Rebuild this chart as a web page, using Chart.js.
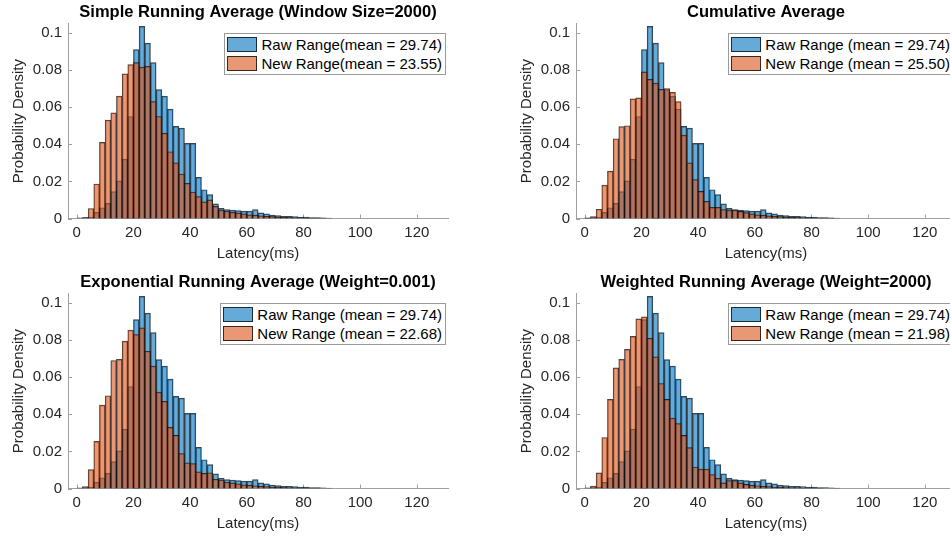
<!DOCTYPE html>
<html lang="en">
<head>
<meta charset="UTF-8">
<title>Latency Histograms</title>
<script src="https://cdn.jsdelivr.net/npm/chart.js"></script>
<style>
    body { margin: 0; width: 950px; height: 537px; overflow: hidden; background: #fff;
           font-family: "Liberation Sans", Arial, sans-serif; }
    .panel { position: absolute; width: 480px; height: 268px; }
    .legend { position: absolute; top: 33px; background: #fff; border: 1px solid #9a9a9a;
              padding: 1px 3px 1px 2px; font-size: 15px; color: #000; white-space: nowrap; }
    .legend .row { display: flex; align-items: center; height: 19px; }
    .legend .sw { width: 28px; height: 13px; margin-right: 4px; border: 1px solid rgba(0,0,0,0.75); }
</style>
</head>
<body>
<div class="panel" style="left:0;top:0"><canvas id="c1" width="480" height="268"></canvas></div>
<div class="panel" style="left:508px;top:0"><canvas id="c2" width="480" height="268"></canvas></div>
<div class="panel" style="left:0;top:270px"><canvas id="c3" width="480" height="268"></canvas></div>
<div class="panel" style="left:508px;top:270px"><canvas id="c4" width="480" height="268"></canvas></div>

<script>
// bin centres (2 ms bins), ticks
const bins = [1, 3, 5, 7, 9, 11, 13, 15, 17, 19, 21, 23, 25, 27, 29, 31, 33, 35, 37, 39,
              41, 43, 45, 47, 49, 51, 53, 55, 57, 59, 61, 63, 65, 67, 69, 71, 73, 75, 77, 79,
              81, 83, 85, 87, 89];
const xTicks = [0, 20, 40, 60, 80, 100, 120];
const yTicks = [0, 0.02, 0.04, 0.06, 0.08, 0.1];

// raw latency histogram (same in every panel)
const rawRange = [0.0003, 0.0005, 0.0008, 0.0033, 0.0058, 0.0082, 0.0145, 0.0203, 0.032, 0.055,
                  0.091, 0.1036, 0.0945, 0.084, 0.0695, 0.066, 0.059, 0.0497, 0.0487, 0.0405,
                  0.0405, 0.0222, 0.0155, 0.0129, 0.0079, 0.0055, 0.0048, 0.0045, 0.0043, 0.004,
                  0.004, 0.0048, 0.003, 0.0025, 0.0018, 0.0016, 0.0012, 0.0012, 0.0011, 0.0007,
                  0.0007, 0.0005, 0.0005, 0.0004, 0.0002];

// filtered histograms
const simpleNew = [0, 0.0005, 0.0054, 0.0186, 0.041, 0.053, 0.057, 0.066, 0.078, 0.083,
                   0.084, 0.0816, 0.082, 0.063, 0.055, 0.046, 0.036, 0.030, 0.024, 0.019,
                   0.0143, 0.0118, 0.009, 0.010, 0.0066, 0.0045, 0.004, 0.0034, 0.003, 0.0025,
                   0.002, 0.0018, 0.0015, 0.0012, 0.001, 0.0008, 0.0006, 0.0005, 0.0004, 0.0003,
                   0.0002, 0.0002, 0.0001, 0.0001, 0];
const cumulativeNew = [0.0002, 0.001, 0.005, 0.018, 0.0255, 0.043, 0.0495, 0.050, 0.0645, 0.065,
                       0.079, 0.075, 0.073, 0.0696, 0.070, 0.068, 0.063, 0.045, 0.030, 0.021,
                       0.0146, 0.0093, 0.006, 0.006, 0.0048, 0.0045, 0.0045, 0.0038, 0.0032, 0.0025,
                       0.002, 0.0018, 0.0014, 0.0012, 0.001, 0.0008, 0.0006, 0.0005, 0.0004, 0.0003,
                       0.0002, 0.0002, 0.0001, 0.0001, 0];
const exponentialNew = [0, 0.001, 0.0102, 0.0254, 0.045, 0.050, 0.069, 0.0696, 0.0795, 0.0854,
                        0.083, 0.0866, 0.074, 0.066, 0.052, 0.047, 0.033, 0.0286, 0.0188, 0.0138,
                        0.0134, 0.009, 0.0082, 0.0085, 0.005, 0.0046, 0.0035, 0.003, 0.0025, 0.002,
                        0.0018, 0.0015, 0.0012, 0.001, 0.0008, 0.0006, 0.0005, 0.0004, 0.0003, 0.0002,
                        0.0002, 0.0001, 0.0001, 0, 0];
const weightedNew = [0, 0.0013, 0.0084, 0.0275, 0.048, 0.065, 0.0696, 0.075, 0.082, 0.0914,
                     0.0925, 0.081, 0.071, 0.0566, 0.048, 0.038, 0.035, 0.0286, 0.022, 0.0116,
                     0.0105, 0.0105, 0.0075, 0.0055, 0.003, 0.0043, 0.0043, 0.003, 0.0022, 0.0018,
                     0.0015, 0.0012, 0.001, 0.0008, 0.0006, 0.0005, 0.0004, 0.0003, 0.0002, 0.0002,
                     0.0001, 0.0001, 0, 0, 0];

const panels = [
    { id: 'c1', title: 'Simple Running Average (Window Size=2000)', values: simpleNew,
      raw: 'Raw Range(mean = 29.74)', neu: 'New Range(mean = 23.55)' },
    { id: 'c2', title: 'Cumulative Average', values: cumulativeNew,
      raw: 'Raw Range (mean = 29.74)', neu: 'New Range (mean = 25.50)' },
    { id: 'c3', title: 'Exponential Running Average (Weight=0.001)', values: exponentialNew,
      raw: 'Raw Range (mean = 29.74)', neu: 'New Range (mean = 22.68)' },
    { id: 'c4', title: 'Weighted Running Average (Weight=2000)', values: weightedNew,
      raw: 'Raw Range (mean = 29.74)', neu: 'New Range (mean = 21.98)' }
];

const BLUE = 'rgba(0,114,189,0.6)';
const ORANGE = 'rgba(217,83,25,0.6)';
const EDGE = 'rgba(0,0,0,0.75)';
const AXIS = '#a0a0a0';

Chart.defaults.font.family = '"Liberation Sans", Arial, sans-serif';
Chart.defaults.font.size = 15;

// small tick marks pointing into the plot (matlab style)
const inwardTicks = {
    id: 'inwardTicks',
    beforeDatasetsDraw(chart) {
        const { ctx, chartArea: a, scales: { x, y } } = chart;
        ctx.save();
        ctx.strokeStyle = AXIS;
        ctx.lineWidth = 1;
        ctx.beginPath();
        xTicks.forEach(v => {
            const px = Math.round(x.getPixelForValue(v)) + 0.5;
            ctx.moveTo(px, a.bottom);
            ctx.lineTo(px, a.bottom - 4);
        });
        yTicks.forEach(v => {
            const py = Math.round(y.getPixelForValue(v)) + 0.5;
            ctx.moveTo(a.left, py);
            ctx.lineTo(a.left + 4, py);
        });
        ctx.stroke();
        ctx.restore();
    }
};

function addLegend(canvas, p) {
    const box = document.createElement('div');
    box.className = 'legend';
    box.style.right = '34px';
    box.innerHTML =
        '<div class="row"><span class="sw" style="background:' + BLUE + '"></span>' + p.raw + '</div>' +
        '<div class="row"><span class="sw" style="background:' + ORANGE + '"></span>' + p.neu + '</div>';
    canvas.parentNode.appendChild(box);
}

panels.forEach(p => {
    const canvas = document.getElementById(p.id);
    new Chart(canvas, {
        type: 'bar',
        data: {
            datasets: [
                { label: p.raw, data: bins.map((b, i) => ({ x: b, y: rawRange[i] })),
                  backgroundColor: BLUE, borderColor: EDGE, borderWidth: 0.8, order: 1 },
                { label: p.neu, data: bins.map((b, i) => ({ x: b, y: p.values[i] })),
                  backgroundColor: ORANGE, borderColor: EDGE, borderWidth: 0.8, order: 0 }
            ]
        },
        options: {
            responsive: false,
            animation: false,
            devicePixelRatio: 1,
            layout: { padding: { left: 0, right: 32, top: 0, bottom: 0 } },
            datasets: { bar: { grouped: false, barPercentage: 1, categoryPercentage: 1 } },
            plugins: {
                legend: { display: false },
                tooltip: { enabled: false },
                title: {
                    display: true, fullSize: false, text: p.title, color: '#000',
                    font: { size: 16.5, weight: 'bold' },
                    padding: { top: 3, bottom: 0.9 }
                }
            },
            scales: {
                x: {
                    type: 'linear', min: -3.1, max: 131, offset: false,
                    grid: { display: false, drawTicks: false },
                    border: { display: true, color: AXIS, width: 1 },
                    ticks: { color: '#262626', padding: 5, maxRotation: 0, autoSkip: false },
                    afterBuildTicks: s => { s.ticks = xTicks.map(v => ({ value: v })); },
                    afterFit: s => { s.height = 49.5; },
                    title: { display: true, text: 'Latency(ms)', color: '#262626',
                             padding: { top: 0, bottom: 5.5 } }
                },
                y: {
                    min: 0, max: 0.105,
                    grid: { display: false, drawTicks: false },
                    border: { display: true, color: AXIS, width: 1 },
                    ticks: { color: '#262626', padding: 6,
                             callback: v => String(+v.toFixed(2)) },
                    afterBuildTicks: s => { s.ticks = yTicks.map(v => ({ value: v })); },
                    afterFit: s => { s.width = 68; },
                    title: { display: true, text: 'Probability Density', color: '#262626',
                             padding: { top: 10, bottom: 0 } }
                }
            }
        },
        plugins: [inwardTicks]
    });
    addLegend(canvas, p);
});
</script>
</body>
</html>
